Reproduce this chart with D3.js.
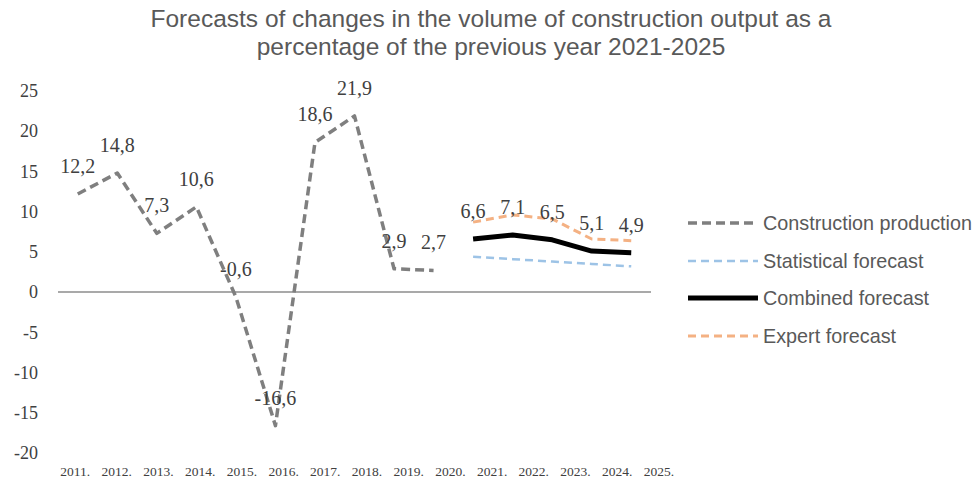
<!DOCTYPE html>
<html>
<head>
<meta charset="utf-8">
<script src="https://cdn.jsdelivr.net/npm/d3@7"></script>
<style>
  html, body { margin: 0; padding: 0; background: #ffffff; }
  svg { display: block; }
</style>
</head>
<body>
<svg id="chart" width="978" height="483"></svg>
<script>
const years = ["2011.", "2012.", "2013.", "2014.", "2015.", "2016.", "2017.", "2018.", "2019.", "2020.", "2021.", "2022.", "2023.", "2024.", "2025."];
const historyYears = years.slice(0, 10);
const forecastYears = years.slice(10);
const construction = [12.2, 14.8, 7.3, 10.6, -0.6, -16.6, 18.6, 21.9, 2.9, 2.7];
const statistical = [4.4, 4.1, 3.8, 3.5, 3.2];
const combined = [6.6, 7.1, 6.5, 5.1, 4.9];
const expert = [8.7, 9.6, 9.1, 6.6, 6.4];
const yTicks = [25, 20, 15, 10, 5, 0, -5, -10, -15, -20];
const seriesNames = ["Construction production", "Statistical forecast", "Combined forecast", "Expert forecast"];
const titleLines = ["Forecasts of changes in the volume of construction output as a", "percentage of the previous year 2021-2025"];

const svg = d3.select("#chart");
const serif = "'Liberation Serif', 'Times New Roman', serif";
const sans = "'Liberation Sans', Arial, sans-serif";

const x = d3.scalePoint().domain(years).range([58, 651]).padding(0.5);
const xLab = d3.scalePoint().domain(years).range([74.6, 658.4]).padding(0);
const y = d3.scaleLinear().domain([-20, 25]).range([453, 91]);

// title
svg.append("g").selectAll("text").data(titleLines).join("text")
  .attr("x", 491).attr("y", (d, i) => 27 + i * 28)
  .attr("text-anchor", "middle")
  .attr("font-family", sans).attr("font-size", 24.5)
  .attr("fill", "#595959")
  .text(d => d);

// y axis labels
const yAxis = d3.axisLeft(y).tickValues(yTicks).tickSize(0).tickPadding(0)
  .tickFormat(d => String(d));
const gy = svg.append("g").attr("transform", "translate(38,0)").call(yAxis);
gy.select(".domain").remove();
gy.selectAll("text").attr("font-family", serif).attr("font-size", 18).attr("fill", "#404040");

// x axis labels
const xAxis = d3.axisBottom(xLab).tickSize(0).tickPadding(0);
const gx = svg.append("g").attr("transform", "translate(0,466)").call(xAxis);
gx.select(".domain").remove();
gx.selectAll("text").attr("font-family", serif).attr("font-size", 13.5).attr("fill", "#404040");

// zero line
svg.append("line")
  .attr("x1", x.range()[0]).attr("x2", x.range()[1])
  .attr("y1", y(0)).attr("y2", y(0))
  .attr("stroke", "#8c8c8c").attr("stroke-width", 1.5);

const line = d3.line().x(d => x(d[0])).y(d => y(d[1]));

const styles = [
  { color: "#7f7f7f", width: 3.5, dash: "9,5" },
  { color: "#9dc3e6", width: 2.5, dash: "8,5" },
  { color: "#000000", width: 5, dash: null },
  { color: "#f4b183", width: 3, dash: "8,5" }
];

const seriesData = [
  d3.zip(historyYears, construction),
  d3.zip(forecastYears, statistical),
  d3.zip(forecastYears, combined),
  d3.zip(forecastYears, expert)
];

const drawOrder = [1, 3, 2, 0];
drawOrder.forEach(i => {
  const s = styles[i];
  svg.append("path")
    .datum(seriesData[i])
    .attr("d", line)
    .attr("fill", "none")
    .attr("stroke", s.color)
    .attr("stroke-width", s.width)
    .attr("stroke-dasharray", s.dash)
    .attr("stroke-linejoin", "round");
});

// data labels
const fmt = v => String(v).replace(".", ",");
const labelData = seriesData[0].concat(seriesData[2]);
svg.append("g").selectAll("text").data(labelData).join("text")
  .attr("x", d => x(d[0]))
  .attr("y", d => y(d[1]) - 21)
  .attr("text-anchor", "middle")
  .attr("font-family", serif).attr("font-size", 20)
  .attr("fill", "#404040")
  .text(d => fmt(d[1]));

// legend
const legendY = [223, 261, 298, 336];
const lg = svg.append("g");
seriesNames.forEach((name, i) => {
  const s = styles[i];
  lg.append("line")
    .attr("x1", 688).attr("x2", 758)
    .attr("y1", legendY[i]).attr("y2", legendY[i])
    .attr("stroke", s.color).attr("stroke-width", s.width)
    .attr("stroke-dasharray", s.dash);
  lg.append("text")
    .attr("x", 763).attr("y", legendY[i])
    .attr("dy", "0.35em")
    .attr("font-family", sans).attr("font-size", 19.8)
    .attr("fill", "#595959")
    .text(name);
});
</script>
</body>
</html>
